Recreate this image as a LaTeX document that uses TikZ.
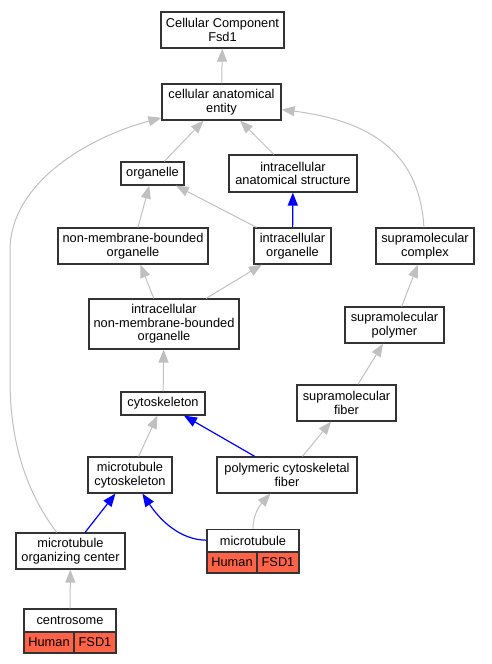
\documentclass[tikz,border=0pt]{standalone}
\usepackage{fontspec}
\setmainfont{Liberation Sans}
\usepackage{xcolor}
\usetikzlibrary{arrows.meta}
\definecolor{edgegray}{RGB}{192,192,192}
\definecolor{tomato}{RGB}{255,99,71}
\tikzset{
  isa/.style={draw=edgegray, line width=1pt, -{Triangle[length=13pt,width=10pt]}},
  partof/.style={draw=blue, line width=1.2pt, -{Triangle[length=13pt,width=10pt]}},
  cell/.style={fill=tomato, minimum height=21pt}
}

\begin{document}
\begin{tikzpicture}[x=1pt,y=-1pt,every node/.style={draw=black!80, line width=1.2pt, fill=white, inner sep=0pt, align=center, font=\fontsize{12.8}{13.5}\selectfont}]
				\useasboundingbox (0,0) rectangle (491,664);
				\node[minimum width=123pt, minimum height=36pt] (cc) at (222.5,30){Cellular Component\\Fsd1};
				\node[minimum width=119pt, minimum height=36pt] (cae) at (221.5,102){cellular anatomical\\entity};
				\node[minimum width=63pt, minimum height=23pt] (org) at (152.5,173.5){organelle};
				\node[minimum width=128pt, minimum height=37pt] (ias) at (293,173.5){intracellular\\anatomical structure};
				\node[minimum width=150pt, minimum height=36pt] (nmbo) at (133,246){non-membrane-bounded\\organelle};
				\node[minimum width=77pt, minimum height=36pt] (io) at (292.5,246){intracellular\\organelle};
				\node[minimum width=98pt, minimum height=36pt] (sc) at (425,246){supramolecular\\complex};
				\node[minimum width=150pt, minimum height=50pt] (inmbo) at (164,324){intracellular\\non-membrane-bounded\\organelle};
				\node[minimum width=99pt, minimum height=36pt] (sp) at (394.5,325){supramolecular\\polymer};
				\node[minimum width=84pt, minimum height=23pt] (cyto) at (163,403.5){cytoskeleton};
				\node[minimum width=99pt, minimum height=36pt] (sf) at (346.5,403){supramolecular\\fiber};
				\node[minimum width=84pt, minimum height=36pt] (mtc) at (130,475){microtubule\\cytoskeleton};
				\node[minimum width=140pt, minimum height=36pt] (pcf) at (287,475){polymeric cytoskeletal\\fiber};
				\node[minimum width=109pt, minimum height=36pt] (mtoc) at (70.5,551){microtubule\\organizing center};
				% annotated terms
				\node[minimum width=92pt, minimum height=22pt] (mt) at (253,540.5){microtubule};
				\node[cell, minimum width=50pt] (mthuman) at (232,562.5){Human};
				\node[cell, minimum width=42pt] (mtfsd) at (278,562.5){FSD1};
				\node[minimum width=92pt, minimum height=23pt] (cs) at (70,620.5){centrosome};
				\node[cell, minimum width=50pt] (cshuman) at (49,642.5){Human};
				\node[cell, minimum width=42pt] (csfsd) at (95,642.5){FSD1};
				\begin{scope}
				\draw[isa] (cae)--(cc);
				\draw[isa] (org)--(cae);
				\draw[isa] (ias)--(cae);
				\draw[isa] (mtoc) .. controls (25,490) and (10,440) .. (10,380) -- (10,250) .. controls (10,185) and (85,138) .. (cae);
				\draw[isa] (sc) .. controls (420,160) and (380,122) .. (cae);
				\draw[isa] (io)--(org);
				\draw[partof] (io)--(ias);
				\draw[isa] (nmbo)--(org);
				\draw[isa] (inmbo)--(nmbo);
				\draw[isa] (inmbo)--(io);
				\draw[isa] (cyto)--(inmbo);
				\draw[isa] (sp)--(sc);
				\draw[isa] (sf)--(sp);
				\draw[isa] (mtc)--(cyto);
				\draw[partof] (pcf)--(cyto);
				\draw[isa] (pcf)--(sf);
				\draw[isa] (mt) .. controls (253,512) and (262,503) .. (pcf);
				\draw[partof] (mt) .. controls (180,540) and (160,520) .. (mtc);
				\draw[partof] (mtoc)--(mtc);
				\draw[isa] (cs)--(mtoc);
				\end{scope}
			\end{tikzpicture}
\end{document}
